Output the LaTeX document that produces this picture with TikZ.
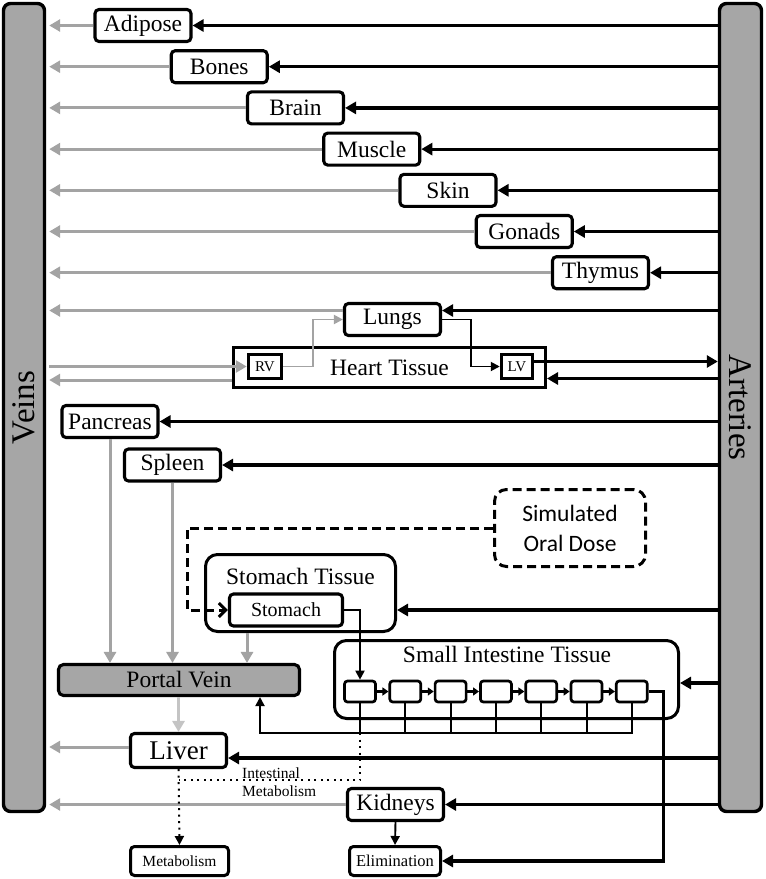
\documentclass[tikz,border=0pt]{standalone}
\usepackage{fontspec}
\setmainfont{Liberation Serif}
\newfontfamily\dosefont{Carlito}
\usepackage{tikz}
\usetikzlibrary{arrows.meta,calc,positioning}
\definecolor{bargray}{HTML}{A6A6A6}
\definecolor{veingray}{HTML}{A3A3A3}
\definecolor{portalgray}{HTML}{C4C4C4}
\tikzset{barbox/.style={draw,line width=3.4pt,fill=bargray,rounded corners=7pt,inner sep=0pt}, bartext/.style={font=\fontsize{33}{36}\selectfont,inner sep=0pt}, organbox/.style={draw,fill=white,line width=3.1pt,rounded corners=4pt,minimum width=96pt,minimum height=32pt,inner sep=0pt,font=\fontsize{23.5}{26}\selectfont}, heartbox/.style={draw,line width=3pt,inner sep=0pt,font=\fontsize{23.5}{26}\selectfont}, chamberbox/.style={draw,fill=white,line width=3.5pt,minimum height=24pt,inner sep=0pt,font=\fontsize{15}{16}\selectfont}, portalbox/.style={organbox,fill=bargray,rounded corners=5pt}, tissuebox/.style={draw,line width=3pt,rounded corners=12pt,inner sep=0pt}, tissuelabel/.style={font=\fontsize{23.5}{26}\selectfont,inner sep=0pt}, dosebox/.style={draw,line width=3pt,dash pattern=on 9pt off 5pt,rounded corners=12pt,align=center,inner sep=0pt,font=\dosefont\fontsize{23.5}{30}\selectfont}, segbox/.style={draw,fill=white,line width=2.7pt,rounded corners=3pt,minimum width=31pt,minimum height=21pt,inner sep=0pt}, sinkbox/.style={draw,fill=white,line width=3pt,rounded corners=4pt,minimum height=29pt,inner sep=0pt}, veinline/.style={draw=veingray,line width=3pt,-{Triangle[length=11pt,width=12pt]}}, lightveinline/.style={veinline,draw=portalgray}, thinveinline/.style={draw=veingray,line width=1.9pt,-{Triangle[length=9pt,width=9pt]}}, artline/.style={line width=3.2pt,-{Triangle[length=11pt,width=12pt]}}, thinartline/.style={line width=1.9pt,-{Triangle[length=9pt,width=9pt]}}, segline/.style={line width=2.2pt,-{Triangle[length=6pt,width=8pt]}}, drainline/.style={line width=2pt}, dotline/.style={line width=2pt,dash pattern=on 2pt off 4.5pt}, doseline/.style={line width=3pt,dash pattern=on 9pt off 5pt,-{Straight Barb[length=7pt,width=14pt]}}, note/.style={font=\fontsize{15.5}{18}\selectfont,inner sep=0pt,align=left}}

\begin{document}
\begin{tikzpicture}[x=1pt,y=-1pt]
\useasboundingbox (0,0) rectangle (766,879);
% the two vessels
\node[barbox,minimum width=41pt,minimum height=808pt] (veins) at (24,407.5) {};
\node[bartext,rotate=90] (veinsLabel) at (veins) {Veins};
\node[barbox,minimum width=42pt,minimum height=808pt] (arteries) at (740.5,407.5) {};
\node[bartext,rotate=-90] (arteriesLabel) at (arteries) {Arteries};
\coordinate (vIn) at ([xshift=3pt]veins.east);
\coordinate (aOut) at (arteries.west);
% organs fed straight from the arteries
\foreach \n/\t [count=\i from 0] in {adipose/Adipose,bones/Bones,brain/Brain,muscle/Muscle,skin/Skin,gonads/Gonads,thymus/Thymus} {
 \node[organbox] (\n) at ({143+76.25*\i},{25.5+41.2*\i}) {\t};
 \draw[veinline] (\n.west) -- (\n.west -| vIn);
 \draw[artline] (\n.east -| aOut) -- (\n.east);
}
% lungs and heart
\node[organbox] (lungs) at (392.5,319.5) {Lungs};
\node[heartbox,minimum width=312pt,minimum height=40pt] (heart) at (389.5,367.5) {Heart Tissue};
\node[chamberbox,minimum width=33pt] (rv) at (265,366.5) {RV};
\node[chamberbox,minimum width=31pt] (lv) at (517,366.5) {LV};
\draw[veinline] ([yshift=9pt]lungs.west) -- ([yshift=9pt]lungs.west -| vIn);
\draw[artline] ([yshift=9pt]lungs.east -| aOut) -- ([yshift=9pt]lungs.east);
\draw[veinline] (rv.west -| vIn) -- (rv.west);
\draw[veinline] ([yshift=-12.5pt]heart.west) -- ([yshift=-12.5pt]heart.west -| vIn);
\draw[artline] ([yshift=5pt]lv.east) -- ([yshift=5pt]lv.east -| aOut);
\draw[artline] ([yshift=-11pt]heart.east -| aOut) -- ([yshift=-11pt]heart.east);
\draw[thinveinline] (rv.east) -- ++(30,0) |- (lungs.west);
\draw[thinartline] (lungs.east) -- ++(29,0) |- (lv.west);
% splanchnic organs
\node[organbox] (pancreas) at (110,421.5) {Pancreas};
\node[organbox] (spleen) at (172.5,465) {Spleen};
\draw[artline] (pancreas.east -| aOut) -- (pancreas.east);
\draw[artline] (spleen.east -| aOut) -- (spleen.east);
\node[portalbox,minimum width=241pt,minimum height=31pt] (portal) at (179,680) {Portal Vein};
\draw[veinline] (pancreas.south) -- (pancreas.south |- portal.north);
\draw[veinline] (spleen.south) -- (spleen.south |- portal.north);
% stomach and oral dose
\node[tissuebox,minimum width=190pt,minimum height=77pt] (stomachT) at (300.5,593) {};
\node[tissuelabel] (stomachTLabel) at (300.5,576) {Stomach Tissue};
\node[organbox,minimum width=113pt,font=\fontsize{20}{22}\selectfont] (stomach) at (286,610) {Stomach};
\draw[veinline] ([xshift=-53.5pt]stomachT.south) -- ([xshift=-53.5pt]stomachT.south |- portal.north);
\draw[artline] (stomach -| aOut) -- (stomach -| stomachT.east);
\node[dosebox,minimum width=151pt,minimum height=77pt] (dose) at (570,528) {Simulated\\Oral Dose};
\coordinate (doseTurn) at (187,526);
\draw[doseline] (dose.west) -- (dose.west -| doseTurn) |- (stomach.west);
% small intestine
\node[tissuebox,minimum width=344pt,minimum height=78pt] (siT) at (506.5,679.5) {};
\node[tissuelabel] (siTLabel) at (507,654) {Small Intestine Tissue};
\foreach \i in {1,...,7}
 \node[segbox] (seg\i) at ({360+45.3*(\i-1)},691.5) {};
\foreach \i/\j in {1/2,2/3,3/4,4/5,5/6,6/7}
 \draw[segline] (seg\i.east) -- (seg\j.west);
\draw[thinartline] (stomach.east) -| (seg1.north);
\draw[artline] ([yshift=-3.5pt]siT.east -| aOut) -- ([yshift=-3.5pt]siT.east);
\coordinate (drain) at (260,733);
\foreach \i in {1,...,6}
 \draw[drainline] (seg\i.south) -- (seg\i.south |- drain);
\draw[drainline,-{Triangle[length=9pt,width=9pt]}] (seg7.south) |- (drain) -- (drain |- portal.south);
% liver, kidneys and sinks
\node[organbox,minimum height=34pt,font=\fontsize{27}{30}\selectfont] (liver) at (178.5,750.5) {Liver};
\draw[lightveinline] (portal.south -| liver.north) -- (liver.north);
\draw[veinline] ([yshift=3.5pt]liver.west) -- ([yshift=3.5pt]liver.west -| vIn);
\draw[artline] ([yshift=-7.5pt]liver.east -| aOut) -- ([yshift=-7.5pt]liver.east);
\node[organbox] (kidneys) at (395.5,804.5) {Kidneys};
\draw[veinline] (kidneys.west) -- (kidneys.west -| vIn);
\draw[artline] (kidneys.east -| aOut) -- (kidneys.east);
\node[sinkbox,minimum width=91pt,font=\fontsize{16.5}{18}\selectfont] (elim) at (395,861) {Elimination};
\node[sinkbox,minimum width=98pt,font=\fontsize{15.5}{18}\selectfont] (metab) at (179.5,861) {Metabolism};
\draw[thinartline] (kidneys.south) -- (elim.north);
\draw[artline] (seg7.east) -- ++(15,0) |- (elim.east);
\coordinate (metJoin) at (179,780);
\draw[dotline] (seg1.south |- drain) |- (metJoin);
\draw[dotline,-{Triangle[length=9pt,width=9pt]}] (liver.south) -- (metab.north);
\node[note,anchor=west] (intMet) at (242,782) {Intestinal\\Metabolism};
\end{tikzpicture}
\end{document}
